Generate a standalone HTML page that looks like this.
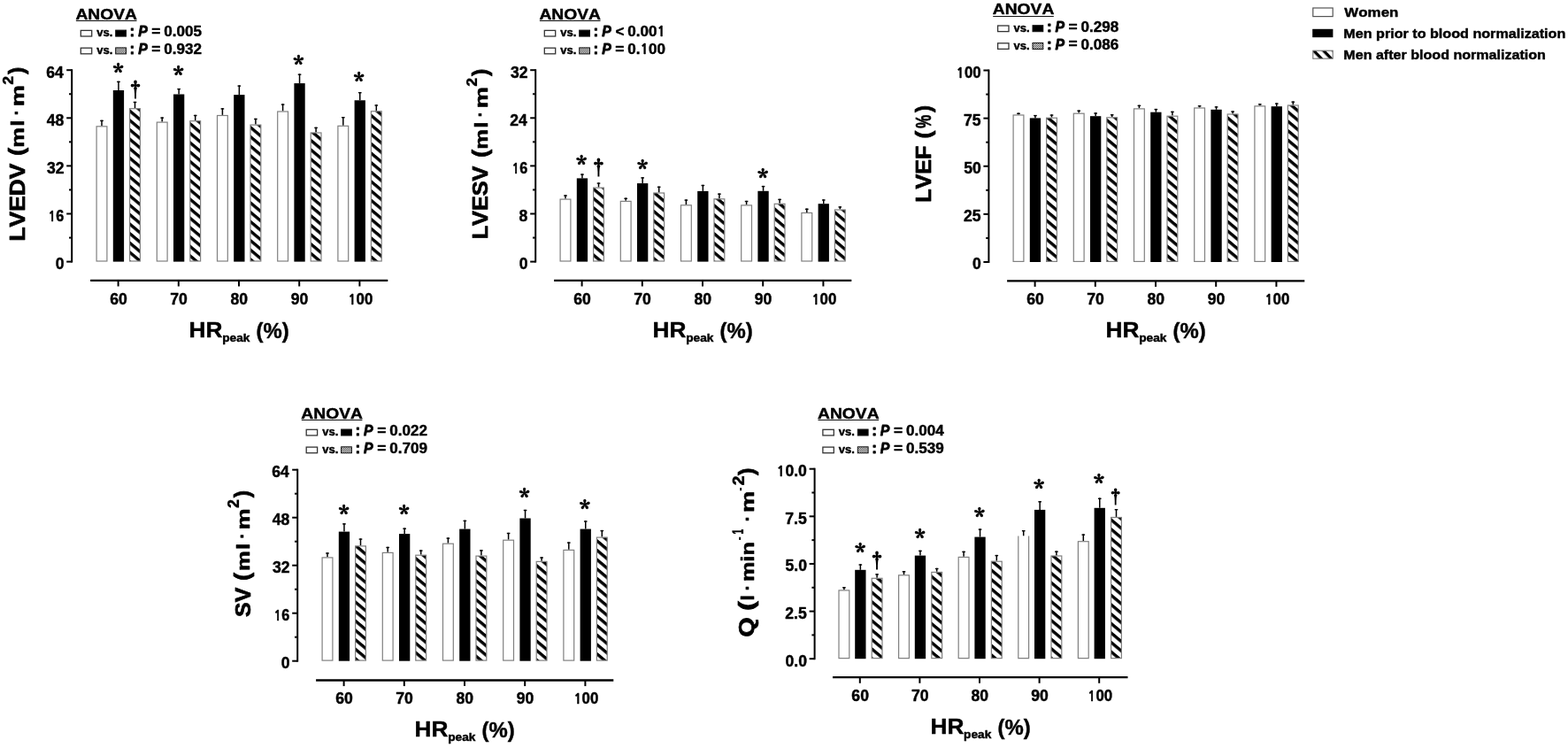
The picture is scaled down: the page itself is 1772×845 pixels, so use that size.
<!DOCTYPE html><html><head><meta charset="utf-8"><title>Cardiac volumes and function vs HRpeak</title><style>
html,body{margin:0;padding:0;background:#fff;overflow:hidden;}svg{display:block;}
text{font-family:'Liberation Sans',Arial,sans-serif;font-weight:bold;fill:#000;font-kerning:none;stroke:#000;stroke-width:0.45px;stroke-linejoin:round;}
</style></head><body>
<svg width="1772" height="845" viewBox="0 0 1772 845">
<defs>
<pattern id="hatch" patternUnits="userSpaceOnUse" width="8.16" height="8.16" patternTransform="rotate(40)"><rect width="8.16" height="8.16" fill="#fff"/><rect width="8.16" height="3.4" fill="#000"/></pattern>
<pattern id="hatchL" patternUnits="userSpaceOnUse" width="7.97" height="7.97" patternTransform="translate(1486.2,56.5) rotate(46)"><rect width="7.97" height="7.97" fill="#fff"/><rect width="7.97" height="3.3" fill="#000"/></pattern>
<pattern id="dots" patternUnits="userSpaceOnUse" width="2" height="2"><rect width="2" height="2" fill="#eee"/><rect width="1" height="1" fill="#444"/><rect x="1" y="1" width="1" height="1" fill="#444"/></pattern>
</defs>
<rect width="1772" height="845" fill="#fff"/>
<line x1="81.2" y1="78.2" x2="81.2" y2="296.6" stroke="#000" stroke-width="2.0"/>
<line x1="75.2" y1="295.6" x2="81.2" y2="295.6" stroke="#000" stroke-width="2.0"/>
<text x="62.73" y="304.04" style="font-size:17.6px" textLength="9.79" lengthAdjust="spacingAndGlyphs">0</text>
<line x1="78" y1="268.55" x2="81.2" y2="268.55" stroke="#000" stroke-width="2.0"/>
<line x1="75.2" y1="241.5" x2="81.2" y2="241.5" stroke="#000" stroke-width="2.0"/>
<text x="54.28" y="249.94" style="font-size:17.6px" textLength="18.1" lengthAdjust="spacingAndGlyphs"><tspan style="font-family:NanumGothic,sans-serif;font-size:0.922em">1</tspan>6</text>
<line x1="78" y1="214.45" x2="81.2" y2="214.45" stroke="#000" stroke-width="2.0"/>
<line x1="75.2" y1="187.4" x2="81.2" y2="187.4" stroke="#000" stroke-width="2.0"/>
<text x="52.93" y="195.84" style="font-size:17.6px" textLength="19.58" lengthAdjust="spacingAndGlyphs">32</text>
<line x1="78" y1="160.35" x2="81.2" y2="160.35" stroke="#000" stroke-width="2.0"/>
<line x1="75.2" y1="133.3" x2="81.2" y2="133.3" stroke="#000" stroke-width="2.0"/>
<text x="52.76" y="141.74" style="font-size:17.6px" textLength="19.58" lengthAdjust="spacingAndGlyphs">48</text>
<line x1="78" y1="106.25" x2="81.2" y2="106.25" stroke="#000" stroke-width="2.0"/>
<line x1="75.2" y1="79.2" x2="81.2" y2="79.2" stroke="#000" stroke-width="2.0"/>
<text x="52.32" y="87.64" style="font-size:17.6px" textLength="19.58" lengthAdjust="spacingAndGlyphs">64</text>
<line x1="102.1" y1="316.9" x2="438.3" y2="316.9" stroke="#000" stroke-width="2.3"/>
<line x1="133.6" y1="316.9" x2="133.6" y2="323.5" stroke="#000" stroke-width="2.0"/>
<text x="124.15" y="343.7" style="font-size:17.6px" textLength="19.58" lengthAdjust="spacingAndGlyphs">60</text>
<line x1="201.8" y1="316.9" x2="201.8" y2="323.5" stroke="#000" stroke-width="2.0"/>
<text x="192.29" y="343.7" style="font-size:17.6px" textLength="19.58" lengthAdjust="spacingAndGlyphs">70</text>
<line x1="270" y1="316.9" x2="270" y2="323.5" stroke="#000" stroke-width="2.0"/>
<text x="260.59" y="343.7" style="font-size:17.6px" textLength="19.58" lengthAdjust="spacingAndGlyphs">80</text>
<line x1="338.2" y1="316.9" x2="338.2" y2="323.5" stroke="#000" stroke-width="2.0"/>
<text x="328.77" y="343.7" style="font-size:17.6px" textLength="19.58" lengthAdjust="spacingAndGlyphs">90</text>
<line x1="406.4" y1="316.9" x2="406.4" y2="323.5" stroke="#000" stroke-width="2.0"/>
<text x="393.16" y="343.7" style="font-size:17.6px" textLength="28.18" lengthAdjust="spacingAndGlyphs"><tspan style="font-family:NanumGothic,sans-serif;font-size:0.922em">1</tspan>00</text>
<text><tspan x="213.64" y="380.8" style="font-size:23.3px" textLength="37.89" lengthAdjust="spacingAndGlyphs">HR</tspan><tspan x="251.2" y="385.5" style="font-size:12.8px" textLength="31.29" lengthAdjust="spacingAndGlyphs">peak</tspan><tspan x="282.97" y="382.1" style="font-size:23.6px" textLength="43.82" lengthAdjust="spacingAndGlyphs"> (%)</tspan></text>
<line x1="115" y1="142.2" x2="115" y2="135.7" stroke="#000" stroke-width="1.5"/>
<line x1="113.2" y1="136.4" x2="116.8" y2="136.4" stroke="#000" stroke-width="1.4"/>
<rect x="109.1" y="142.8" width="11.8" height="152.2" fill="#fff" stroke="#808080" stroke-width="1.2"/>
<line x1="133.95" y1="102" x2="133.95" y2="91.7" stroke="#000" stroke-width="1.5"/>
<line x1="132.15" y1="92.4" x2="135.75" y2="92.4" stroke="#000" stroke-width="1.4"/>
<rect x="127.8" y="102" width="12.3" height="193.6" fill="#000"/>
<line x1="152.5" y1="122.1" x2="152.5" y2="114.8" stroke="#000" stroke-width="1.5"/>
<line x1="150.7" y1="115.5" x2="154.3" y2="115.5" stroke="#000" stroke-width="1.4"/>
<rect x="146.6" y="122.7" width="11.8" height="172.3" fill="url(#hatch)" stroke="#808080" stroke-width="1.2"/>
<line x1="183.2" y1="137.5" x2="183.2" y2="132.4" stroke="#000" stroke-width="1.5"/>
<line x1="181.4" y1="133.1" x2="185" y2="133.1" stroke="#000" stroke-width="1.4"/>
<rect x="177.3" y="138.1" width="11.8" height="156.9" fill="#fff" stroke="#808080" stroke-width="1.2"/>
<line x1="202.15" y1="106.5" x2="202.15" y2="99.9" stroke="#000" stroke-width="1.5"/>
<line x1="200.35" y1="100.6" x2="203.95" y2="100.6" stroke="#000" stroke-width="1.4"/>
<rect x="196" y="106.5" width="12.3" height="189.1" fill="#000"/>
<line x1="220.7" y1="136.1" x2="220.7" y2="129.8" stroke="#000" stroke-width="1.5"/>
<line x1="218.9" y1="130.5" x2="222.5" y2="130.5" stroke="#000" stroke-width="1.4"/>
<rect x="214.8" y="136.7" width="11.8" height="158.3" fill="url(#hatch)" stroke="#808080" stroke-width="1.2"/>
<line x1="251.4" y1="129.9" x2="251.4" y2="122.2" stroke="#000" stroke-width="1.5"/>
<line x1="249.6" y1="122.9" x2="253.2" y2="122.9" stroke="#000" stroke-width="1.4"/>
<rect x="245.5" y="130.5" width="11.8" height="164.5" fill="#fff" stroke="#808080" stroke-width="1.2"/>
<line x1="270.35" y1="107.1" x2="270.35" y2="96.4" stroke="#000" stroke-width="1.5"/>
<line x1="268.55" y1="97.1" x2="272.15" y2="97.1" stroke="#000" stroke-width="1.4"/>
<rect x="264.2" y="107.1" width="12.3" height="188.5" fill="#000"/>
<line x1="288.9" y1="140.5" x2="288.9" y2="133.8" stroke="#000" stroke-width="1.5"/>
<line x1="287.1" y1="134.5" x2="290.7" y2="134.5" stroke="#000" stroke-width="1.4"/>
<rect x="283" y="141.1" width="11.8" height="153.9" fill="url(#hatch)" stroke="#808080" stroke-width="1.2"/>
<line x1="319.6" y1="125.4" x2="319.6" y2="117.4" stroke="#000" stroke-width="1.5"/>
<line x1="317.8" y1="118.1" x2="321.4" y2="118.1" stroke="#000" stroke-width="1.4"/>
<rect x="313.7" y="126" width="11.8" height="169" fill="#fff" stroke="#808080" stroke-width="1.2"/>
<line x1="338.55" y1="94.1" x2="338.55" y2="83.5" stroke="#000" stroke-width="1.5"/>
<line x1="336.75" y1="84.2" x2="340.35" y2="84.2" stroke="#000" stroke-width="1.4"/>
<rect x="332.4" y="94.1" width="12.3" height="201.5" fill="#000"/>
<line x1="357.1" y1="149.4" x2="357.1" y2="143.7" stroke="#000" stroke-width="1.5"/>
<line x1="355.3" y1="144.4" x2="358.9" y2="144.4" stroke="#000" stroke-width="1.4"/>
<rect x="351.2" y="150" width="11.8" height="145" fill="url(#hatch)" stroke="#808080" stroke-width="1.2"/>
<line x1="387.8" y1="141.7" x2="387.8" y2="132" stroke="#000" stroke-width="1.5"/>
<line x1="386" y1="132.7" x2="389.6" y2="132.7" stroke="#000" stroke-width="1.4"/>
<rect x="381.9" y="142.3" width="11.8" height="152.7" fill="#fff" stroke="#808080" stroke-width="1.2"/>
<line x1="406.75" y1="113.3" x2="406.75" y2="104" stroke="#000" stroke-width="1.5"/>
<line x1="404.95" y1="104.7" x2="408.55" y2="104.7" stroke="#000" stroke-width="1.4"/>
<rect x="400.6" y="113.3" width="12.3" height="182.3" fill="#000"/>
<line x1="425.3" y1="125.1" x2="425.3" y2="118.3" stroke="#000" stroke-width="1.5"/>
<line x1="423.5" y1="119" x2="427.1" y2="119" stroke="#000" stroke-width="1.4"/>
<rect x="419.4" y="125.7" width="11.8" height="169.3" fill="url(#hatch)" stroke="#808080" stroke-width="1.2"/>
<text x="127.74" y="91.36" style="font-family:'Noto Serif CJK SC',serif;font-weight:900;stroke-width:0.7px;font-size:24.0px">*</text>
<text x="195.74" y="94.36" style="font-family:'Noto Serif CJK SC',serif;font-weight:900;stroke-width:0.7px;font-size:24.0px">*</text>
<text x="331.44" y="81.76" style="font-family:'Noto Serif CJK SC',serif;font-weight:900;stroke-width:0.7px;font-size:24.0px">*</text>
<text x="399.84" y="100.56" style="font-family:'Noto Serif CJK SC',serif;font-weight:900;stroke-width:0.7px;font-size:24.0px">*</text>
<text x="142.25" y="108.58" style="font-family:IPAGothic,sans-serif;font-weight:bold;stroke:none;font-size:21.52px">&#8224;</text>
<text x="85.42" y="21.7" style="font-size:17.15px" textLength="69.59" lengthAdjust="spacingAndGlyphs">ANOVA</text>
<line x1="85.9" y1="23.5" x2="154.5" y2="23.5" stroke="#111" stroke-width="1.1"/>
<rect x="91.3" y="34.4" width="12.4" height="6.6" fill="#fff" stroke="#333" stroke-width="1.3"/>
<rect x="130.7" y="34.1" width="11.8" height="7.0" fill="#000" stroke="#111" stroke-width="1"/>
<text><tspan x="109.25" y="41.2" style="font-size:13px" textLength="21.78" lengthAdjust="spacingAndGlyphs">vs. </tspan><tspan x="146.62" y="41.2" style="font-size:17.3px;stroke-width:0.8px">: </tspan><tspan x="156.22" y="41.2" style="font-style:italic;stroke-width:0.8px;font-size:17.3px" textLength="14.95" lengthAdjust="spacingAndGlyphs">P </tspan><tspan x="171.28" y="41" style="font-size:17.3px" textLength="14.95" lengthAdjust="spacingAndGlyphs">= </tspan><tspan x="185.32" y="41.2" style="font-size:17.3px" textLength="42.75" lengthAdjust="spacingAndGlyphs">0.005</tspan></text>
<rect x="91.3" y="54.2" width="12.4" height="6.6" fill="#fff" stroke="#333" stroke-width="1.3"/>
<rect x="130.7" y="53.9" width="11.8" height="7.0" fill="url(#dots)" stroke="#111" stroke-width="1"/>
<text><tspan x="109.25" y="61" style="font-size:13px" textLength="21.78" lengthAdjust="spacingAndGlyphs">vs. </tspan><tspan x="146.62" y="61" style="font-size:17.3px;stroke-width:0.8px">: </tspan><tspan x="156.22" y="61" style="font-style:italic;stroke-width:0.8px;font-size:17.3px" textLength="14.95" lengthAdjust="spacingAndGlyphs">P </tspan><tspan x="171.28" y="60.8" style="font-size:17.3px" textLength="14.95" lengthAdjust="spacingAndGlyphs">= </tspan><tspan x="185.32" y="61" style="font-size:17.3px" textLength="42.75" lengthAdjust="spacingAndGlyphs">0.932</tspan></text>
<text transform="rotate(-90)"><tspan x="-272.57" y="27.7" style="stroke-width:0.75px;font-size:24.7px" textLength="95.38" lengthAdjust="spacingAndGlyphs">LVEDV </tspan><tspan x="-175.96" y="27.3" style="stroke-width:0.75px;font-size:24.7px" textLength="9.09" lengthAdjust="spacingAndGlyphs">(</tspan><tspan x="-166.79" y="27.3" style="stroke-width:0.6px;font-size:21px" textLength="22.78" lengthAdjust="spacingAndGlyphs">m</tspan><tspan x="-142.73" y="27.3" style="stroke-width:0.6px;font-size:21px" textLength="7.29" lengthAdjust="spacingAndGlyphs">l</tspan><tspan x="-130.42" y="25.3" style="stroke-width:0.6px;font-size:21px" textLength="6.87" lengthAdjust="spacingAndGlyphs">·</tspan><tspan x="-120.19" y="27.3" style="stroke-width:0.6px;font-size:21px" textLength="24.18" lengthAdjust="spacingAndGlyphs">m</tspan><tspan x="-95.96" y="27.26" style="stroke-width:0.2px;font-size:34.41px" textLength="10.21" lengthAdjust="spacingAndGlyphs">²</tspan><tspan x="-84.02" y="27.3" style="stroke-width:0.75px;font-size:24.7px" textLength="8.38" lengthAdjust="spacingAndGlyphs">)</tspan></text>
<line x1="605.2" y1="78.2" x2="605.2" y2="296.6" stroke="#000" stroke-width="2.0"/>
<line x1="599.2" y1="295.6" x2="605.2" y2="295.6" stroke="#000" stroke-width="2.0"/>
<text x="586.73" y="304.04" style="font-size:17.6px" textLength="9.79" lengthAdjust="spacingAndGlyphs">0</text>
<line x1="602" y1="268.55" x2="605.2" y2="268.55" stroke="#000" stroke-width="2.0"/>
<line x1="599.2" y1="241.5" x2="605.2" y2="241.5" stroke="#000" stroke-width="2.0"/>
<text x="586.55" y="249.94" style="font-size:17.6px" textLength="9.79" lengthAdjust="spacingAndGlyphs">8</text>
<line x1="602" y1="214.45" x2="605.2" y2="214.45" stroke="#000" stroke-width="2.0"/>
<line x1="599.2" y1="187.4" x2="605.2" y2="187.4" stroke="#000" stroke-width="2.0"/>
<text x="578.28" y="195.84" style="font-size:17.6px" textLength="18.1" lengthAdjust="spacingAndGlyphs"><tspan style="font-family:NanumGothic,sans-serif;font-size:0.922em">1</tspan>6</text>
<line x1="602" y1="160.35" x2="605.2" y2="160.35" stroke="#000" stroke-width="2.0"/>
<line x1="599.2" y1="133.3" x2="605.2" y2="133.3" stroke="#000" stroke-width="2.0"/>
<text x="576.32" y="141.74" style="font-size:17.6px" textLength="19.58" lengthAdjust="spacingAndGlyphs">24</text>
<line x1="602" y1="106.25" x2="605.2" y2="106.25" stroke="#000" stroke-width="2.0"/>
<line x1="599.2" y1="79.2" x2="605.2" y2="79.2" stroke="#000" stroke-width="2.0"/>
<text x="576.93" y="87.64" style="font-size:17.6px" textLength="19.58" lengthAdjust="spacingAndGlyphs">32</text>
<line x1="626.1" y1="316.9" x2="962.3" y2="316.9" stroke="#000" stroke-width="2.3"/>
<line x1="657.6" y1="316.9" x2="657.6" y2="323.5" stroke="#000" stroke-width="2.0"/>
<text x="648.15" y="343.7" style="font-size:17.6px" textLength="19.58" lengthAdjust="spacingAndGlyphs">60</text>
<line x1="725.8" y1="316.9" x2="725.8" y2="323.5" stroke="#000" stroke-width="2.0"/>
<text x="716.29" y="343.7" style="font-size:17.6px" textLength="19.58" lengthAdjust="spacingAndGlyphs">70</text>
<line x1="794" y1="316.9" x2="794" y2="323.5" stroke="#000" stroke-width="2.0"/>
<text x="784.59" y="343.7" style="font-size:17.6px" textLength="19.58" lengthAdjust="spacingAndGlyphs">80</text>
<line x1="862.2" y1="316.9" x2="862.2" y2="323.5" stroke="#000" stroke-width="2.0"/>
<text x="852.77" y="343.7" style="font-size:17.6px" textLength="19.58" lengthAdjust="spacingAndGlyphs">90</text>
<line x1="930.4" y1="316.9" x2="930.4" y2="323.5" stroke="#000" stroke-width="2.0"/>
<text x="917.16" y="343.7" style="font-size:17.6px" textLength="28.18" lengthAdjust="spacingAndGlyphs"><tspan style="font-family:NanumGothic,sans-serif;font-size:0.922em">1</tspan>00</text>
<text><tspan x="737.64" y="380.8" style="font-size:23.3px" textLength="37.89" lengthAdjust="spacingAndGlyphs">HR</tspan><tspan x="775.2" y="385.5" style="font-size:12.8px" textLength="31.29" lengthAdjust="spacingAndGlyphs">peak</tspan><tspan x="806.97" y="382.1" style="font-size:23.6px" textLength="43.82" lengthAdjust="spacingAndGlyphs"> (%)</tspan></text>
<line x1="639" y1="224.5" x2="639" y2="220.3" stroke="#000" stroke-width="1.5"/>
<line x1="637.2" y1="221" x2="640.8" y2="221" stroke="#000" stroke-width="1.4"/>
<rect x="633.1" y="225.1" width="11.8" height="69.9" fill="#fff" stroke="#808080" stroke-width="1.2"/>
<line x1="657.95" y1="201.4" x2="657.95" y2="196.4" stroke="#000" stroke-width="1.5"/>
<line x1="656.15" y1="197.1" x2="659.75" y2="197.1" stroke="#000" stroke-width="1.4"/>
<rect x="651.8" y="201.4" width="12.3" height="94.2" fill="#000"/>
<line x1="676.5" y1="211.5" x2="676.5" y2="206.4" stroke="#000" stroke-width="1.5"/>
<line x1="674.7" y1="207.1" x2="678.3" y2="207.1" stroke="#000" stroke-width="1.4"/>
<rect x="670.6" y="212.1" width="11.8" height="82.9" fill="url(#hatch)" stroke="#808080" stroke-width="1.2"/>
<line x1="707.2" y1="226.8" x2="707.2" y2="223.6" stroke="#000" stroke-width="1.5"/>
<line x1="705.4" y1="224.3" x2="709" y2="224.3" stroke="#000" stroke-width="1.4"/>
<rect x="701.3" y="227.4" width="11.8" height="67.6" fill="#fff" stroke="#808080" stroke-width="1.2"/>
<line x1="726.15" y1="207.1" x2="726.15" y2="200.2" stroke="#000" stroke-width="1.5"/>
<line x1="724.35" y1="200.9" x2="727.95" y2="200.9" stroke="#000" stroke-width="1.4"/>
<rect x="720" y="207.1" width="12.3" height="88.5" fill="#000"/>
<line x1="744.7" y1="217.4" x2="744.7" y2="210.6" stroke="#000" stroke-width="1.5"/>
<line x1="742.9" y1="211.3" x2="746.5" y2="211.3" stroke="#000" stroke-width="1.4"/>
<rect x="738.8" y="218" width="11.8" height="77" fill="url(#hatch)" stroke="#808080" stroke-width="1.2"/>
<line x1="775.4" y1="231.2" x2="775.4" y2="225.4" stroke="#000" stroke-width="1.5"/>
<line x1="773.6" y1="226.1" x2="777.2" y2="226.1" stroke="#000" stroke-width="1.4"/>
<rect x="769.5" y="231.8" width="11.8" height="63.2" fill="#fff" stroke="#808080" stroke-width="1.2"/>
<line x1="794.35" y1="215.9" x2="794.35" y2="208.8" stroke="#000" stroke-width="1.5"/>
<line x1="792.55" y1="209.5" x2="796.15" y2="209.5" stroke="#000" stroke-width="1.4"/>
<rect x="788.2" y="215.9" width="12.3" height="79.7" fill="#000"/>
<line x1="812.9" y1="224.2" x2="812.9" y2="218.5" stroke="#000" stroke-width="1.5"/>
<line x1="811.1" y1="219.2" x2="814.7" y2="219.2" stroke="#000" stroke-width="1.4"/>
<rect x="807" y="224.8" width="11.8" height="70.2" fill="url(#hatch)" stroke="#808080" stroke-width="1.2"/>
<line x1="843.6" y1="231.3" x2="843.6" y2="226.8" stroke="#000" stroke-width="1.5"/>
<line x1="841.8" y1="227.5" x2="845.4" y2="227.5" stroke="#000" stroke-width="1.4"/>
<rect x="837.7" y="231.9" width="11.8" height="63.1" fill="#fff" stroke="#808080" stroke-width="1.2"/>
<line x1="862.55" y1="215.8" x2="862.55" y2="209.9" stroke="#000" stroke-width="1.5"/>
<line x1="860.75" y1="210.6" x2="864.35" y2="210.6" stroke="#000" stroke-width="1.4"/>
<rect x="856.4" y="215.8" width="12.3" height="79.8" fill="#000"/>
<line x1="881.1" y1="229.7" x2="881.1" y2="224.7" stroke="#000" stroke-width="1.5"/>
<line x1="879.3" y1="225.4" x2="882.9" y2="225.4" stroke="#000" stroke-width="1.4"/>
<rect x="875.2" y="230.3" width="11.8" height="64.7" fill="url(#hatch)" stroke="#808080" stroke-width="1.2"/>
<line x1="911.8" y1="239.9" x2="911.8" y2="235.6" stroke="#000" stroke-width="1.5"/>
<line x1="910" y1="236.3" x2="913.6" y2="236.3" stroke="#000" stroke-width="1.4"/>
<rect x="905.9" y="240.5" width="11.8" height="54.5" fill="#fff" stroke="#808080" stroke-width="1.2"/>
<line x1="930.75" y1="230.2" x2="930.75" y2="225.3" stroke="#000" stroke-width="1.5"/>
<line x1="928.95" y1="226" x2="932.55" y2="226" stroke="#000" stroke-width="1.4"/>
<rect x="924.6" y="230.2" width="12.3" height="65.4" fill="#000"/>
<line x1="949.3" y1="236.4" x2="949.3" y2="233.2" stroke="#000" stroke-width="1.5"/>
<line x1="947.5" y1="233.9" x2="951.1" y2="233.9" stroke="#000" stroke-width="1.4"/>
<rect x="943.4" y="237" width="11.8" height="58" fill="url(#hatch)" stroke="#808080" stroke-width="1.2"/>
<text x="651.14" y="194.96" style="font-family:'Noto Serif CJK SC',serif;font-weight:900;stroke-width:0.7px;font-size:24.0px">*</text>
<text x="720.14" y="199.66" style="font-family:'Noto Serif CJK SC',serif;font-weight:900;stroke-width:0.7px;font-size:24.0px">*</text>
<text x="856.24" y="209.66" style="font-family:'Noto Serif CJK SC',serif;font-weight:900;stroke-width:0.7px;font-size:24.0px">*</text>
<text x="665.39" y="197.25" style="font-family:IPAGothic,sans-serif;font-weight:bold;stroke:none;font-size:21.85px">&#8224;</text>
<text x="609.42" y="21.7" style="font-size:17.15px" textLength="69.59" lengthAdjust="spacingAndGlyphs">ANOVA</text>
<line x1="609.9" y1="23.5" x2="678.5" y2="23.5" stroke="#111" stroke-width="1.1"/>
<rect x="615.3" y="34.4" width="12.4" height="6.6" fill="#fff" stroke="#333" stroke-width="1.3"/>
<rect x="654.7" y="34.1" width="11.8" height="7.0" fill="#000" stroke="#111" stroke-width="1"/>
<text><tspan x="633.25" y="41.2" style="font-size:13px" textLength="21.78" lengthAdjust="spacingAndGlyphs">vs. </tspan><tspan x="670.62" y="41.2" style="font-size:17.3px;stroke-width:0.8px">: </tspan><tspan x="680.22" y="41.2" style="font-style:italic;stroke-width:0.8px;font-size:17.3px" textLength="14.95" lengthAdjust="spacingAndGlyphs">P </tspan><tspan x="695.49" y="41.2" style="font-size:17.3px" textLength="14.61" lengthAdjust="spacingAndGlyphs">&lt; </tspan><tspan x="709.32" y="41.2" style="font-size:17.3px" textLength="42.75" lengthAdjust="spacingAndGlyphs">0.00<tspan style="font-family:NanumGothic,sans-serif;font-size:0.922em">1</tspan></tspan></text>
<rect x="615.3" y="54.2" width="12.4" height="6.6" fill="#fff" stroke="#333" stroke-width="1.3"/>
<rect x="654.7" y="53.9" width="11.8" height="7.0" fill="url(#dots)" stroke="#111" stroke-width="1"/>
<text><tspan x="633.25" y="61" style="font-size:13px" textLength="21.78" lengthAdjust="spacingAndGlyphs">vs. </tspan><tspan x="670.62" y="61" style="font-size:17.3px;stroke-width:0.8px">: </tspan><tspan x="680.22" y="61" style="font-style:italic;stroke-width:0.8px;font-size:17.3px" textLength="14.95" lengthAdjust="spacingAndGlyphs">P </tspan><tspan x="695.28" y="60.8" style="font-size:17.3px" textLength="14.95" lengthAdjust="spacingAndGlyphs">= </tspan><tspan x="709.32" y="61" style="font-size:17.3px" textLength="42.75" lengthAdjust="spacingAndGlyphs">0.<tspan style="font-family:NanumGothic,sans-serif;font-size:0.922em">1</tspan>00</tspan></text>
<text transform="rotate(-90)"><tspan x="-270.39" y="551.3" style="stroke-width:0.75px;font-size:24.7px" textLength="89.88" lengthAdjust="spacingAndGlyphs">LVESV </tspan><tspan x="-177.96" y="550.8" style="stroke-width:0.75px;font-size:24.7px" textLength="9.09" lengthAdjust="spacingAndGlyphs">(</tspan><tspan x="-168.79" y="550.8" style="stroke-width:0.6px;font-size:21px" textLength="22.78" lengthAdjust="spacingAndGlyphs">m</tspan><tspan x="-144.73" y="550.8" style="stroke-width:0.6px;font-size:21px" textLength="7.29" lengthAdjust="spacingAndGlyphs">l</tspan><tspan x="-132.42" y="548.8" style="stroke-width:0.6px;font-size:21px" textLength="6.87" lengthAdjust="spacingAndGlyphs">·</tspan><tspan x="-122.19" y="550.8" style="stroke-width:0.6px;font-size:21px" textLength="24.18" lengthAdjust="spacingAndGlyphs">m</tspan><tspan x="-97.96" y="550.39" style="stroke-width:0.2px;font-size:32.73px" textLength="10.21" lengthAdjust="spacingAndGlyphs">²</tspan><tspan x="-86.02" y="550.8" style="stroke-width:0.75px;font-size:24.7px" textLength="8.38" lengthAdjust="spacingAndGlyphs">)</tspan></text>
<line x1="1117.4" y1="78.5" x2="1117.4" y2="297" stroke="#000" stroke-width="2.0"/>
<line x1="1111.4" y1="296" x2="1117.4" y2="296" stroke="#000" stroke-width="2.0"/>
<text x="1098.93" y="304.44" style="font-size:17.6px" textLength="9.79" lengthAdjust="spacingAndGlyphs">0</text>
<line x1="1114.2" y1="268.94" x2="1117.4" y2="268.94" stroke="#000" stroke-width="2.0"/>
<line x1="1111.4" y1="241.88" x2="1117.4" y2="241.88" stroke="#000" stroke-width="2.0"/>
<text x="1088.91" y="250.32" style="font-size:17.6px" textLength="19.58" lengthAdjust="spacingAndGlyphs">25</text>
<line x1="1114.2" y1="214.81" x2="1117.4" y2="214.81" stroke="#000" stroke-width="2.0"/>
<line x1="1111.4" y1="187.75" x2="1117.4" y2="187.75" stroke="#000" stroke-width="2.0"/>
<text x="1089.15" y="196.19" style="font-size:17.6px" textLength="19.58" lengthAdjust="spacingAndGlyphs">50</text>
<line x1="1114.2" y1="160.69" x2="1117.4" y2="160.69" stroke="#000" stroke-width="2.0"/>
<line x1="1111.4" y1="133.62" x2="1117.4" y2="133.62" stroke="#000" stroke-width="2.0"/>
<text x="1088.91" y="142.07" style="font-size:17.6px" textLength="19.58" lengthAdjust="spacingAndGlyphs">75</text>
<line x1="1114.2" y1="106.56" x2="1117.4" y2="106.56" stroke="#000" stroke-width="2.0"/>
<line x1="1111.4" y1="79.5" x2="1117.4" y2="79.5" stroke="#000" stroke-width="2.0"/>
<text x="1080.51" y="87.94" style="font-size:17.6px" textLength="28.18" lengthAdjust="spacingAndGlyphs"><tspan style="font-family:NanumGothic,sans-serif;font-size:0.922em">1</tspan>00</text>
<line x1="1138.1" y1="317.3" x2="1474.3" y2="317.3" stroke="#000" stroke-width="2.3"/>
<line x1="1169.6" y1="317.3" x2="1169.6" y2="323.9" stroke="#000" stroke-width="2.0"/>
<text x="1160.15" y="343.7" style="font-size:17.6px" textLength="19.58" lengthAdjust="spacingAndGlyphs">60</text>
<line x1="1237.8" y1="317.3" x2="1237.8" y2="323.9" stroke="#000" stroke-width="2.0"/>
<text x="1228.29" y="343.7" style="font-size:17.6px" textLength="19.58" lengthAdjust="spacingAndGlyphs">70</text>
<line x1="1306" y1="317.3" x2="1306" y2="323.9" stroke="#000" stroke-width="2.0"/>
<text x="1296.59" y="343.7" style="font-size:17.6px" textLength="19.58" lengthAdjust="spacingAndGlyphs">80</text>
<line x1="1374.2" y1="317.3" x2="1374.2" y2="323.9" stroke="#000" stroke-width="2.0"/>
<text x="1364.77" y="343.7" style="font-size:17.6px" textLength="19.58" lengthAdjust="spacingAndGlyphs">90</text>
<line x1="1442.4" y1="317.3" x2="1442.4" y2="323.9" stroke="#000" stroke-width="2.0"/>
<text x="1429.16" y="343.7" style="font-size:17.6px" textLength="28.18" lengthAdjust="spacingAndGlyphs"><tspan style="font-family:NanumGothic,sans-serif;font-size:0.922em">1</tspan>00</text>
<text><tspan x="1249.64" y="380.8" style="font-size:23.3px" textLength="37.89" lengthAdjust="spacingAndGlyphs">HR</tspan><tspan x="1287.2" y="385.5" style="font-size:12.8px" textLength="31.29" lengthAdjust="spacingAndGlyphs">peak</tspan><tspan x="1318.97" y="382.1" style="font-size:23.6px" textLength="43.82" lengthAdjust="spacingAndGlyphs"> (%)</tspan></text>
<line x1="1151" y1="129.4" x2="1151" y2="127.6" stroke="#000" stroke-width="1.5"/>
<line x1="1149.2" y1="128.3" x2="1152.8" y2="128.3" stroke="#000" stroke-width="1.4"/>
<rect x="1145.1" y="130" width="11.8" height="165.4" fill="#fff" stroke="#808080" stroke-width="1.2"/>
<line x1="1169.95" y1="133.4" x2="1169.95" y2="129.9" stroke="#000" stroke-width="1.5"/>
<line x1="1168.15" y1="130.6" x2="1171.75" y2="130.6" stroke="#000" stroke-width="1.4"/>
<rect x="1163.8" y="133.4" width="12.3" height="162.6" fill="#000"/>
<line x1="1188.5" y1="132.6" x2="1188.5" y2="129.4" stroke="#000" stroke-width="1.5"/>
<line x1="1186.7" y1="130.1" x2="1190.3" y2="130.1" stroke="#000" stroke-width="1.4"/>
<rect x="1182.6" y="133.2" width="11.8" height="162.2" fill="url(#hatch)" stroke="#808080" stroke-width="1.2"/>
<line x1="1219.2" y1="127.6" x2="1219.2" y2="124.5" stroke="#000" stroke-width="1.5"/>
<line x1="1217.4" y1="125.2" x2="1221" y2="125.2" stroke="#000" stroke-width="1.4"/>
<rect x="1213.3" y="128.2" width="11.8" height="167.2" fill="#fff" stroke="#808080" stroke-width="1.2"/>
<line x1="1238.15" y1="131.2" x2="1238.15" y2="127.3" stroke="#000" stroke-width="1.5"/>
<line x1="1236.35" y1="128" x2="1239.95" y2="128" stroke="#000" stroke-width="1.4"/>
<rect x="1232" y="131.2" width="12.3" height="164.8" fill="#000"/>
<line x1="1256.7" y1="132.2" x2="1256.7" y2="129.1" stroke="#000" stroke-width="1.5"/>
<line x1="1254.9" y1="129.8" x2="1258.5" y2="129.8" stroke="#000" stroke-width="1.4"/>
<rect x="1250.8" y="132.8" width="11.8" height="162.6" fill="url(#hatch)" stroke="#808080" stroke-width="1.2"/>
<line x1="1287.4" y1="122.3" x2="1287.4" y2="118.7" stroke="#000" stroke-width="1.5"/>
<line x1="1285.6" y1="119.4" x2="1289.2" y2="119.4" stroke="#000" stroke-width="1.4"/>
<rect x="1281.5" y="122.9" width="11.8" height="172.5" fill="#fff" stroke="#808080" stroke-width="1.2"/>
<line x1="1306.35" y1="126.7" x2="1306.35" y2="122.9" stroke="#000" stroke-width="1.5"/>
<line x1="1304.55" y1="123.6" x2="1308.15" y2="123.6" stroke="#000" stroke-width="1.4"/>
<rect x="1300.2" y="126.7" width="12.3" height="169.3" fill="#000"/>
<line x1="1324.9" y1="130.6" x2="1324.9" y2="125.7" stroke="#000" stroke-width="1.5"/>
<line x1="1323.1" y1="126.4" x2="1326.7" y2="126.4" stroke="#000" stroke-width="1.4"/>
<rect x="1319" y="131.2" width="11.8" height="164.2" fill="url(#hatch)" stroke="#808080" stroke-width="1.2"/>
<line x1="1355.6" y1="121.4" x2="1355.6" y2="119.1" stroke="#000" stroke-width="1.5"/>
<line x1="1353.8" y1="119.8" x2="1357.4" y2="119.8" stroke="#000" stroke-width="1.4"/>
<rect x="1349.7" y="122" width="11.8" height="173.4" fill="#fff" stroke="#808080" stroke-width="1.2"/>
<line x1="1374.55" y1="123.8" x2="1374.55" y2="120.2" stroke="#000" stroke-width="1.5"/>
<line x1="1372.75" y1="120.9" x2="1376.35" y2="120.9" stroke="#000" stroke-width="1.4"/>
<rect x="1368.4" y="123.8" width="12.3" height="172.2" fill="#000"/>
<line x1="1393.1" y1="128.4" x2="1393.1" y2="125.4" stroke="#000" stroke-width="1.5"/>
<line x1="1391.3" y1="126.1" x2="1394.9" y2="126.1" stroke="#000" stroke-width="1.4"/>
<rect x="1387.2" y="129" width="11.8" height="166.4" fill="url(#hatch)" stroke="#808080" stroke-width="1.2"/>
<line x1="1423.8" y1="119.3" x2="1423.8" y2="117.2" stroke="#000" stroke-width="1.5"/>
<line x1="1422" y1="117.9" x2="1425.6" y2="117.9" stroke="#000" stroke-width="1.4"/>
<rect x="1417.9" y="119.9" width="11.8" height="175.5" fill="#fff" stroke="#808080" stroke-width="1.2"/>
<line x1="1442.75" y1="120.2" x2="1442.75" y2="116.4" stroke="#000" stroke-width="1.5"/>
<line x1="1440.95" y1="117.1" x2="1444.55" y2="117.1" stroke="#000" stroke-width="1.4"/>
<rect x="1436.6" y="120.2" width="12.3" height="175.8" fill="#000"/>
<line x1="1461.3" y1="118.4" x2="1461.3" y2="114.5" stroke="#000" stroke-width="1.5"/>
<line x1="1459.5" y1="115.2" x2="1463.1" y2="115.2" stroke="#000" stroke-width="1.4"/>
<rect x="1455.4" y="119" width="11.8" height="176.4" fill="url(#hatch)" stroke="#808080" stroke-width="1.2"/>
<text x="1121.72" y="16.3" style="font-size:17.15px" textLength="69.59" lengthAdjust="spacingAndGlyphs">ANOVA</text>
<line x1="1122.2" y1="18.5" x2="1190.8" y2="18.5" stroke="#111" stroke-width="1.1"/>
<rect x="1127.6" y="29" width="12.4" height="6.6" fill="#fff" stroke="#333" stroke-width="1.3"/>
<rect x="1167" y="28.7" width="11.8" height="7.0" fill="#000" stroke="#111" stroke-width="1"/>
<text><tspan x="1145.55" y="35.8" style="font-size:13px" textLength="21.78" lengthAdjust="spacingAndGlyphs">vs. </tspan><tspan x="1182.92" y="35.8" style="font-size:17.3px;stroke-width:0.8px">: </tspan><tspan x="1192.52" y="35.8" style="font-style:italic;stroke-width:0.8px;font-size:17.3px" textLength="14.95" lengthAdjust="spacingAndGlyphs">P </tspan><tspan x="1207.58" y="35.6" style="font-size:17.3px" textLength="14.95" lengthAdjust="spacingAndGlyphs">= </tspan><tspan x="1221.62" y="35.8" style="font-size:17.3px" textLength="42.75" lengthAdjust="spacingAndGlyphs">0.298</tspan></text>
<rect x="1127.6" y="48.8" width="12.4" height="6.6" fill="#fff" stroke="#333" stroke-width="1.3"/>
<rect x="1167" y="48.5" width="11.8" height="7.0" fill="url(#dots)" stroke="#111" stroke-width="1"/>
<text><tspan x="1145.55" y="55.6" style="font-size:13px" textLength="21.78" lengthAdjust="spacingAndGlyphs">vs. </tspan><tspan x="1182.92" y="55.6" style="font-size:17.3px;stroke-width:0.8px">: </tspan><tspan x="1192.52" y="55.6" style="font-style:italic;stroke-width:0.8px;font-size:17.3px" textLength="14.95" lengthAdjust="spacingAndGlyphs">P </tspan><tspan x="1207.58" y="55.4" style="font-size:17.3px" textLength="14.95" lengthAdjust="spacingAndGlyphs">= </tspan><tspan x="1221.62" y="55.6" style="font-size:17.3px" textLength="42.75" lengthAdjust="spacingAndGlyphs">0.086</tspan></text>
<text transform="rotate(-90)"><tspan x="-228.88" y="1052" style="stroke-width:0.75px;font-size:24.7px" textLength="71.3" lengthAdjust="spacingAndGlyphs">LVEF </tspan><tspan x="-156.62" y="1052" style="stroke-width:0.75px;font-size:24.7px" textLength="8.85" lengthAdjust="spacingAndGlyphs">(</tspan><tspan x="-144.93" y="1052.3" style="stroke-width:0.75px;font-size:24.7px" textLength="15.18" lengthAdjust="spacingAndGlyphs">%</tspan><tspan x="-126.92" y="1052" style="stroke-width:0.75px;font-size:24.7px" textLength="8.02" lengthAdjust="spacingAndGlyphs">)</tspan></text>
<line x1="336.2" y1="529.7" x2="336.2" y2="747.7" stroke="#000" stroke-width="2.0"/>
<line x1="330.2" y1="746.7" x2="336.2" y2="746.7" stroke="#000" stroke-width="2.0"/>
<text x="317.73" y="755.14" style="font-size:17.6px" textLength="9.79" lengthAdjust="spacingAndGlyphs">0</text>
<line x1="333" y1="719.7" x2="336.2" y2="719.7" stroke="#000" stroke-width="2.0"/>
<line x1="330.2" y1="692.7" x2="336.2" y2="692.7" stroke="#000" stroke-width="2.0"/>
<text x="309.28" y="701.14" style="font-size:17.6px" textLength="18.1" lengthAdjust="spacingAndGlyphs"><tspan style="font-family:NanumGothic,sans-serif;font-size:0.922em">1</tspan>6</text>
<line x1="333" y1="665.7" x2="336.2" y2="665.7" stroke="#000" stroke-width="2.0"/>
<line x1="330.2" y1="638.7" x2="336.2" y2="638.7" stroke="#000" stroke-width="2.0"/>
<text x="307.93" y="647.14" style="font-size:17.6px" textLength="19.58" lengthAdjust="spacingAndGlyphs">32</text>
<line x1="333" y1="611.7" x2="336.2" y2="611.7" stroke="#000" stroke-width="2.0"/>
<line x1="330.2" y1="584.7" x2="336.2" y2="584.7" stroke="#000" stroke-width="2.0"/>
<text x="307.76" y="593.14" style="font-size:17.6px" textLength="19.58" lengthAdjust="spacingAndGlyphs">48</text>
<line x1="333" y1="557.7" x2="336.2" y2="557.7" stroke="#000" stroke-width="2.0"/>
<line x1="330.2" y1="530.7" x2="336.2" y2="530.7" stroke="#000" stroke-width="2.0"/>
<text x="307.32" y="539.14" style="font-size:17.6px" textLength="19.58" lengthAdjust="spacingAndGlyphs">64</text>
<line x1="357.1" y1="768.5" x2="693.3" y2="768.5" stroke="#000" stroke-width="2.3"/>
<line x1="388.6" y1="768.5" x2="388.6" y2="775.1" stroke="#000" stroke-width="2.0"/>
<text x="379.15" y="794.8" style="font-size:17.6px" textLength="19.58" lengthAdjust="spacingAndGlyphs">60</text>
<line x1="456.8" y1="768.5" x2="456.8" y2="775.1" stroke="#000" stroke-width="2.0"/>
<text x="447.29" y="794.8" style="font-size:17.6px" textLength="19.58" lengthAdjust="spacingAndGlyphs">70</text>
<line x1="525" y1="768.5" x2="525" y2="775.1" stroke="#000" stroke-width="2.0"/>
<text x="515.59" y="794.8" style="font-size:17.6px" textLength="19.58" lengthAdjust="spacingAndGlyphs">80</text>
<line x1="593.2" y1="768.5" x2="593.2" y2="775.1" stroke="#000" stroke-width="2.0"/>
<text x="583.77" y="794.8" style="font-size:17.6px" textLength="19.58" lengthAdjust="spacingAndGlyphs">90</text>
<line x1="661.4" y1="768.5" x2="661.4" y2="775.1" stroke="#000" stroke-width="2.0"/>
<text x="648.16" y="794.8" style="font-size:17.6px" textLength="28.18" lengthAdjust="spacingAndGlyphs"><tspan style="font-family:NanumGothic,sans-serif;font-size:0.922em">1</tspan>00</text>
<text><tspan x="468.64" y="831.9" style="font-size:23.3px" textLength="37.89" lengthAdjust="spacingAndGlyphs">HR</tspan><tspan x="506.2" y="836.6" style="font-size:12.8px" textLength="31.29" lengthAdjust="spacingAndGlyphs">peak</tspan><tspan x="537.97" y="833.2" style="font-size:23.6px" textLength="43.82" lengthAdjust="spacingAndGlyphs"> (%)</tspan></text>
<line x1="370" y1="629.3" x2="370" y2="624.3" stroke="#000" stroke-width="1.5"/>
<line x1="368.2" y1="625" x2="371.8" y2="625" stroke="#000" stroke-width="1.4"/>
<rect x="364.1" y="629.9" width="11.8" height="116.2" fill="#fff" stroke="#808080" stroke-width="1.2"/>
<line x1="388.95" y1="600.6" x2="388.95" y2="591.2" stroke="#000" stroke-width="1.5"/>
<line x1="387.15" y1="591.9" x2="390.75" y2="591.9" stroke="#000" stroke-width="1.4"/>
<rect x="382.8" y="600.6" width="12.3" height="146.1" fill="#000"/>
<line x1="407.5" y1="616.3" x2="407.5" y2="608.4" stroke="#000" stroke-width="1.5"/>
<line x1="405.7" y1="609.1" x2="409.3" y2="609.1" stroke="#000" stroke-width="1.4"/>
<rect x="401.6" y="616.9" width="11.8" height="129.2" fill="url(#hatch)" stroke="#808080" stroke-width="1.2"/>
<line x1="438.2" y1="623.8" x2="438.2" y2="617.8" stroke="#000" stroke-width="1.5"/>
<line x1="436.4" y1="618.5" x2="440" y2="618.5" stroke="#000" stroke-width="1.4"/>
<rect x="432.3" y="624.4" width="11.8" height="121.7" fill="#fff" stroke="#808080" stroke-width="1.2"/>
<line x1="457.15" y1="603.1" x2="457.15" y2="596.5" stroke="#000" stroke-width="1.5"/>
<line x1="455.35" y1="597.2" x2="458.95" y2="597.2" stroke="#000" stroke-width="1.4"/>
<rect x="451" y="603.1" width="12.3" height="143.6" fill="#000"/>
<line x1="475.7" y1="626.6" x2="475.7" y2="621.4" stroke="#000" stroke-width="1.5"/>
<line x1="473.9" y1="622.1" x2="477.5" y2="622.1" stroke="#000" stroke-width="1.4"/>
<rect x="469.8" y="627.2" width="11.8" height="118.9" fill="url(#hatch)" stroke="#808080" stroke-width="1.2"/>
<line x1="506.4" y1="613.6" x2="506.4" y2="607.4" stroke="#000" stroke-width="1.5"/>
<line x1="504.6" y1="608.1" x2="508.2" y2="608.1" stroke="#000" stroke-width="1.4"/>
<rect x="500.5" y="614.2" width="11.8" height="131.9" fill="#fff" stroke="#808080" stroke-width="1.2"/>
<line x1="525.35" y1="597.6" x2="525.35" y2="587.7" stroke="#000" stroke-width="1.5"/>
<line x1="523.55" y1="588.4" x2="527.15" y2="588.4" stroke="#000" stroke-width="1.4"/>
<rect x="519.2" y="597.6" width="12.3" height="149.1" fill="#000"/>
<line x1="543.9" y1="627.5" x2="543.9" y2="621.2" stroke="#000" stroke-width="1.5"/>
<line x1="542.1" y1="621.9" x2="545.7" y2="621.9" stroke="#000" stroke-width="1.4"/>
<rect x="538" y="628.1" width="11.8" height="118" fill="url(#hatch)" stroke="#808080" stroke-width="1.2"/>
<line x1="574.6" y1="609.6" x2="574.6" y2="601.8" stroke="#000" stroke-width="1.5"/>
<line x1="572.8" y1="602.5" x2="576.4" y2="602.5" stroke="#000" stroke-width="1.4"/>
<rect x="568.7" y="610.2" width="11.8" height="135.9" fill="#fff" stroke="#808080" stroke-width="1.2"/>
<line x1="593.55" y1="585.5" x2="593.55" y2="575.8" stroke="#000" stroke-width="1.5"/>
<line x1="591.75" y1="576.5" x2="595.35" y2="576.5" stroke="#000" stroke-width="1.4"/>
<rect x="587.4" y="585.5" width="12.3" height="161.2" fill="#000"/>
<line x1="612.1" y1="633.8" x2="612.1" y2="629.3" stroke="#000" stroke-width="1.5"/>
<line x1="610.3" y1="630" x2="613.9" y2="630" stroke="#000" stroke-width="1.4"/>
<rect x="606.2" y="634.4" width="11.8" height="111.7" fill="url(#hatch)" stroke="#808080" stroke-width="1.2"/>
<line x1="642.8" y1="620.8" x2="642.8" y2="612.4" stroke="#000" stroke-width="1.5"/>
<line x1="641" y1="613.1" x2="644.6" y2="613.1" stroke="#000" stroke-width="1.4"/>
<rect x="636.9" y="621.4" width="11.8" height="124.7" fill="#fff" stroke="#808080" stroke-width="1.2"/>
<line x1="661.75" y1="597.6" x2="661.75" y2="588.3" stroke="#000" stroke-width="1.5"/>
<line x1="659.95" y1="589" x2="663.55" y2="589" stroke="#000" stroke-width="1.4"/>
<rect x="655.6" y="597.6" width="12.3" height="149.1" fill="#000"/>
<line x1="680.3" y1="606.5" x2="680.3" y2="598.9" stroke="#000" stroke-width="1.5"/>
<line x1="678.5" y1="599.6" x2="682.1" y2="599.6" stroke="#000" stroke-width="1.4"/>
<rect x="674.4" y="607.1" width="11.8" height="139" fill="url(#hatch)" stroke="#808080" stroke-width="1.2"/>
<text x="382.64" y="590.36" style="font-family:'Noto Serif CJK SC',serif;font-weight:900;stroke-width:0.7px;font-size:24.0px">*</text>
<text x="450.74" y="590.36" style="font-family:'Noto Serif CJK SC',serif;font-weight:900;stroke-width:0.7px;font-size:24.0px">*</text>
<text x="586.84" y="571.36" style="font-family:'Noto Serif CJK SC',serif;font-weight:900;stroke-width:0.7px;font-size:24.0px">*</text>
<text x="655.04" y="583.86" style="font-family:'Noto Serif CJK SC',serif;font-weight:900;stroke-width:0.7px;font-size:24.0px">*</text>
<text x="340.32" y="472.6" style="font-size:17.15px" textLength="69.59" lengthAdjust="spacingAndGlyphs">ANOVA</text>
<line x1="340.8" y1="474.5" x2="409.4" y2="474.5" stroke="#111" stroke-width="1.1"/>
<rect x="346.2" y="485.3" width="12.4" height="6.6" fill="#fff" stroke="#333" stroke-width="1.3"/>
<rect x="385.6" y="485" width="11.8" height="7.0" fill="#000" stroke="#111" stroke-width="1"/>
<text><tspan x="364.15" y="492.1" style="font-size:13px" textLength="21.78" lengthAdjust="spacingAndGlyphs">vs. </tspan><tspan x="401.52" y="492.1" style="font-size:17.3px;stroke-width:0.8px">: </tspan><tspan x="411.12" y="492.1" style="font-style:italic;stroke-width:0.8px;font-size:17.3px" textLength="14.95" lengthAdjust="spacingAndGlyphs">P </tspan><tspan x="426.18" y="491.9" style="font-size:17.3px" textLength="14.95" lengthAdjust="spacingAndGlyphs">= </tspan><tspan x="440.22" y="492.1" style="font-size:17.3px" textLength="42.75" lengthAdjust="spacingAndGlyphs">0.022</tspan></text>
<rect x="346.2" y="505.1" width="12.4" height="6.6" fill="#fff" stroke="#333" stroke-width="1.3"/>
<rect x="385.6" y="504.8" width="11.8" height="7.0" fill="url(#dots)" stroke="#111" stroke-width="1"/>
<text><tspan x="364.15" y="511.9" style="font-size:13px" textLength="21.78" lengthAdjust="spacingAndGlyphs">vs. </tspan><tspan x="401.52" y="511.9" style="font-size:17.3px;stroke-width:0.8px">: </tspan><tspan x="411.12" y="511.9" style="font-style:italic;stroke-width:0.8px;font-size:17.3px" textLength="14.95" lengthAdjust="spacingAndGlyphs">P </tspan><tspan x="426.18" y="511.7" style="font-size:17.3px" textLength="14.95" lengthAdjust="spacingAndGlyphs">= </tspan><tspan x="440.22" y="511.9" style="font-size:17.3px" textLength="42.75" lengthAdjust="spacingAndGlyphs">0.709</tspan></text>
<text transform="rotate(-90)"><tspan x="-696.92" y="282.5" style="stroke-width:0.75px;font-size:24.7px" textLength="40.1" lengthAdjust="spacingAndGlyphs">SV </tspan><tspan x="-655.96" y="282.2" style="stroke-width:0.75px;font-size:24.7px" textLength="9.09" lengthAdjust="spacingAndGlyphs">(</tspan><tspan x="-645.09" y="282.2" style="stroke-width:0.6px;font-size:21px" textLength="22.78" lengthAdjust="spacingAndGlyphs">m</tspan><tspan x="-621.03" y="282.2" style="stroke-width:0.6px;font-size:21px" textLength="7.29" lengthAdjust="spacingAndGlyphs">l</tspan><tspan x="-608.72" y="280.2" style="stroke-width:0.6px;font-size:21px" textLength="6.87" lengthAdjust="spacingAndGlyphs">·</tspan><tspan x="-598.49" y="282.2" style="stroke-width:0.6px;font-size:21px" textLength="24.18" lengthAdjust="spacingAndGlyphs">m</tspan><tspan x="-574.26" y="282.06" style="stroke-width:0.2px;font-size:34.69px" textLength="10.21" lengthAdjust="spacingAndGlyphs">²</tspan><tspan x="-562.32" y="282.2" style="stroke-width:0.75px;font-size:24.7px" textLength="8.38" lengthAdjust="spacingAndGlyphs">)</tspan></text>
<line x1="920.6" y1="528.7" x2="920.6" y2="745.2" stroke="#000" stroke-width="2.0"/>
<line x1="914.6" y1="744.2" x2="920.6" y2="744.2" stroke="#000" stroke-width="2.0"/>
<text x="887.46" y="752.64" style="font-size:17.6px" textLength="24.47" lengthAdjust="spacingAndGlyphs">0.0</text>
<line x1="917.4" y1="717.39" x2="920.6" y2="717.39" stroke="#000" stroke-width="2.0"/>
<line x1="914.6" y1="690.58" x2="920.6" y2="690.58" stroke="#000" stroke-width="2.0"/>
<text x="887.22" y="699.02" style="font-size:17.6px" textLength="24.47" lengthAdjust="spacingAndGlyphs">2.5</text>
<line x1="917.4" y1="663.76" x2="920.6" y2="663.76" stroke="#000" stroke-width="2.0"/>
<line x1="914.6" y1="636.95" x2="920.6" y2="636.95" stroke="#000" stroke-width="2.0"/>
<text x="887.46" y="645.39" style="font-size:17.6px" textLength="24.47" lengthAdjust="spacingAndGlyphs">5.0</text>
<line x1="917.4" y1="610.14" x2="920.6" y2="610.14" stroke="#000" stroke-width="2.0"/>
<line x1="914.6" y1="583.33" x2="920.6" y2="583.33" stroke="#000" stroke-width="2.0"/>
<text x="887.22" y="591.77" style="font-size:17.6px" textLength="24.47" lengthAdjust="spacingAndGlyphs">7.5</text>
<line x1="917.4" y1="556.51" x2="920.6" y2="556.51" stroke="#000" stroke-width="2.0"/>
<line x1="914.6" y1="529.7" x2="920.6" y2="529.7" stroke="#000" stroke-width="2.0"/>
<text x="877.62" y="538.14" style="font-size:17.6px" textLength="34.3" lengthAdjust="spacingAndGlyphs"><tspan style="font-family:NanumGothic,sans-serif;font-size:0.922em">1</tspan>0.0</text>
<line x1="941" y1="765.2" x2="1274.5" y2="765.2" stroke="#000" stroke-width="2.3"/>
<line x1="971.8" y1="765.2" x2="971.8" y2="771.8" stroke="#000" stroke-width="2.0"/>
<text x="962.35" y="791.7" style="font-size:17.6px" textLength="19.58" lengthAdjust="spacingAndGlyphs">60</text>
<line x1="1039.4" y1="765.2" x2="1039.4" y2="771.8" stroke="#000" stroke-width="2.0"/>
<text x="1029.89" y="791.7" style="font-size:17.6px" textLength="19.58" lengthAdjust="spacingAndGlyphs">70</text>
<line x1="1107" y1="765.2" x2="1107" y2="771.8" stroke="#000" stroke-width="2.0"/>
<text x="1097.59" y="791.7" style="font-size:17.6px" textLength="19.58" lengthAdjust="spacingAndGlyphs">80</text>
<line x1="1174.6" y1="765.2" x2="1174.6" y2="771.8" stroke="#000" stroke-width="2.0"/>
<text x="1165.17" y="791.7" style="font-size:17.6px" textLength="19.58" lengthAdjust="spacingAndGlyphs">90</text>
<line x1="1242.2" y1="765.2" x2="1242.2" y2="771.8" stroke="#000" stroke-width="2.0"/>
<text x="1228.96" y="791.7" style="font-size:17.6px" textLength="28.18" lengthAdjust="spacingAndGlyphs"><tspan style="font-family:NanumGothic,sans-serif;font-size:0.922em">1</tspan>00</text>
<text><tspan x="1051.54" y="828.8" style="font-size:23.3px" textLength="37.89" lengthAdjust="spacingAndGlyphs">HR</tspan><tspan x="1089.1" y="833.5" style="font-size:12.8px" textLength="31.29" lengthAdjust="spacingAndGlyphs">peak</tspan><tspan x="1120.87" y="830.1" style="font-size:23.6px" textLength="43.82" lengthAdjust="spacingAndGlyphs"> (%)</tspan></text>
<line x1="953.9" y1="666.3" x2="953.9" y2="663.1" stroke="#000" stroke-width="1.5"/>
<line x1="952.1" y1="663.8" x2="955.7" y2="663.8" stroke="#000" stroke-width="1.4"/>
<rect x="948" y="666.9" width="11.8" height="76.7" fill="#fff" stroke="#808080" stroke-width="1.2"/>
<line x1="972.35" y1="643.8" x2="972.35" y2="637.3" stroke="#000" stroke-width="1.5"/>
<line x1="970.55" y1="638" x2="974.15" y2="638" stroke="#000" stroke-width="1.4"/>
<rect x="966.2" y="643.8" width="12.3" height="100.4" fill="#000"/>
<line x1="991.1" y1="652.7" x2="991.1" y2="648.2" stroke="#000" stroke-width="1.5"/>
<line x1="989.3" y1="648.9" x2="992.9" y2="648.9" stroke="#000" stroke-width="1.4"/>
<rect x="985.2" y="653.3" width="11.8" height="90.3" fill="url(#hatch)" stroke="#808080" stroke-width="1.2"/>
<line x1="1021.5" y1="649.2" x2="1021.5" y2="645.1" stroke="#000" stroke-width="1.5"/>
<line x1="1019.7" y1="645.8" x2="1023.3" y2="645.8" stroke="#000" stroke-width="1.4"/>
<rect x="1015.6" y="649.8" width="11.8" height="93.8" fill="#fff" stroke="#808080" stroke-width="1.2"/>
<line x1="1039.95" y1="627.6" x2="1039.95" y2="621.7" stroke="#000" stroke-width="1.5"/>
<line x1="1038.15" y1="622.4" x2="1041.75" y2="622.4" stroke="#000" stroke-width="1.4"/>
<rect x="1033.8" y="627.6" width="12.3" height="116.6" fill="#000"/>
<line x1="1058.7" y1="645.8" x2="1058.7" y2="641.8" stroke="#000" stroke-width="1.5"/>
<line x1="1056.9" y1="642.5" x2="1060.5" y2="642.5" stroke="#000" stroke-width="1.4"/>
<rect x="1052.8" y="646.4" width="11.8" height="97.2" fill="url(#hatch)" stroke="#808080" stroke-width="1.2"/>
<line x1="1089.1" y1="628.8" x2="1089.1" y2="622.7" stroke="#000" stroke-width="1.5"/>
<line x1="1087.3" y1="623.4" x2="1090.9" y2="623.4" stroke="#000" stroke-width="1.4"/>
<rect x="1083.2" y="629.4" width="11.8" height="114.2" fill="#fff" stroke="#808080" stroke-width="1.2"/>
<line x1="1107.55" y1="606.6" x2="1107.55" y2="597.4" stroke="#000" stroke-width="1.5"/>
<line x1="1105.75" y1="598.1" x2="1109.35" y2="598.1" stroke="#000" stroke-width="1.4"/>
<rect x="1101.4" y="606.6" width="12.3" height="137.6" fill="#000"/>
<line x1="1126.3" y1="633.6" x2="1126.3" y2="626.9" stroke="#000" stroke-width="1.5"/>
<line x1="1124.5" y1="627.6" x2="1128.1" y2="627.6" stroke="#000" stroke-width="1.4"/>
<rect x="1120.4" y="634.2" width="11.8" height="109.4" fill="url(#hatch)" stroke="#808080" stroke-width="1.2"/>
<line x1="1156.7" y1="605.6" x2="1156.7" y2="599" stroke="#000" stroke-width="1.5"/>
<line x1="1154.9" y1="599.7" x2="1158.5" y2="599.7" stroke="#000" stroke-width="1.4"/>
<path d="M1150.8 605.6V743.6H1162.6V605.6" fill="#fff" stroke="#808080" stroke-width="1.2"/>
<line x1="1175.15" y1="575.9" x2="1175.15" y2="566.1" stroke="#000" stroke-width="1.5"/>
<line x1="1173.35" y1="566.8" x2="1176.95" y2="566.8" stroke="#000" stroke-width="1.4"/>
<rect x="1169" y="575.9" width="12.3" height="168.3" fill="#000"/>
<line x1="1193.9" y1="627.4" x2="1193.9" y2="622.5" stroke="#000" stroke-width="1.5"/>
<line x1="1192.1" y1="623.2" x2="1195.7" y2="623.2" stroke="#000" stroke-width="1.4"/>
<rect x="1188" y="628" width="11.8" height="115.6" fill="url(#hatch)" stroke="#808080" stroke-width="1.2"/>
<line x1="1224.3" y1="611.1" x2="1224.3" y2="603.4" stroke="#000" stroke-width="1.5"/>
<line x1="1222.5" y1="604.1" x2="1226.1" y2="604.1" stroke="#000" stroke-width="1.4"/>
<rect x="1218.4" y="611.7" width="11.8" height="131.9" fill="#fff" stroke="#808080" stroke-width="1.2"/>
<line x1="1242.75" y1="573.8" x2="1242.75" y2="562.6" stroke="#000" stroke-width="1.5"/>
<line x1="1240.95" y1="563.3" x2="1244.55" y2="563.3" stroke="#000" stroke-width="1.4"/>
<rect x="1236.6" y="573.8" width="12.3" height="170.4" fill="#000"/>
<line x1="1261.5" y1="583.9" x2="1261.5" y2="575" stroke="#000" stroke-width="1.5"/>
<line x1="1259.7" y1="575.7" x2="1263.3" y2="575.7" stroke="#000" stroke-width="1.4"/>
<rect x="1255.6" y="584.5" width="11.8" height="159.1" fill="url(#hatch)" stroke="#808080" stroke-width="1.2"/>
<text x="966.14" y="633.26" style="font-family:'Noto Serif CJK SC',serif;font-weight:900;stroke-width:0.7px;font-size:24.0px">*</text>
<text x="1033.64" y="616.66" style="font-family:'Noto Serif CJK SC',serif;font-weight:900;stroke-width:0.7px;font-size:24.0px">*</text>
<text x="1100.94" y="592.56" style="font-family:'Noto Serif CJK SC',serif;font-weight:900;stroke-width:0.7px;font-size:24.0px">*</text>
<text x="1168.24" y="560.76" style="font-family:'Noto Serif CJK SC',serif;font-weight:900;stroke-width:0.7px;font-size:24.0px">*</text>
<text x="1235.94" y="554.56" style="font-family:'Noto Serif CJK SC',serif;font-weight:900;stroke-width:0.7px;font-size:24.0px">*</text>
<text x="980.25" y="641.48" style="font-family:IPAGothic,sans-serif;font-weight:bold;stroke:none;font-size:21.52px">&#8224;</text>
<text x="1250.54" y="568.07" style="font-family:IPAGothic,sans-serif;font-weight:bold;stroke:none;font-size:20.33px">&#8224;</text>
<text x="924.02" y="472.6" style="font-size:17.15px" textLength="69.59" lengthAdjust="spacingAndGlyphs">ANOVA</text>
<line x1="924.5" y1="474.5" x2="993.1" y2="474.5" stroke="#111" stroke-width="1.1"/>
<rect x="929.9" y="485.3" width="12.4" height="6.6" fill="#fff" stroke="#333" stroke-width="1.3"/>
<rect x="969.3" y="485" width="11.8" height="7.0" fill="#000" stroke="#111" stroke-width="1"/>
<text><tspan x="947.85" y="492.1" style="font-size:13px" textLength="21.78" lengthAdjust="spacingAndGlyphs">vs. </tspan><tspan x="985.22" y="492.1" style="font-size:17.3px;stroke-width:0.8px">: </tspan><tspan x="994.82" y="492.1" style="font-style:italic;stroke-width:0.8px;font-size:17.3px" textLength="14.95" lengthAdjust="spacingAndGlyphs">P </tspan><tspan x="1009.88" y="491.9" style="font-size:17.3px" textLength="14.95" lengthAdjust="spacingAndGlyphs">= </tspan><tspan x="1023.92" y="492.1" style="font-size:17.3px" textLength="42.75" lengthAdjust="spacingAndGlyphs">0.004</tspan></text>
<rect x="929.9" y="505.1" width="12.4" height="6.6" fill="#fff" stroke="#333" stroke-width="1.3"/>
<rect x="969.3" y="504.8" width="11.8" height="7.0" fill="url(#dots)" stroke="#111" stroke-width="1"/>
<text><tspan x="947.85" y="511.9" style="font-size:13px" textLength="21.78" lengthAdjust="spacingAndGlyphs">vs. </tspan><tspan x="985.22" y="511.9" style="font-size:17.3px;stroke-width:0.8px">: </tspan><tspan x="994.82" y="511.9" style="font-style:italic;stroke-width:0.8px;font-size:17.3px" textLength="14.95" lengthAdjust="spacingAndGlyphs">P </tspan><tspan x="1009.88" y="511.7" style="font-size:17.3px" textLength="14.95" lengthAdjust="spacingAndGlyphs">= </tspan><tspan x="1023.92" y="511.9" style="font-size:17.3px" textLength="42.75" lengthAdjust="spacingAndGlyphs">0.539</tspan></text>
<text transform="rotate(-90)"><tspan x="-719.68" y="852" style="stroke-width:0.75px;font-size:24.7px" textLength="30.39" lengthAdjust="spacingAndGlyphs">Q </tspan><tspan x="-690.14" y="852" style="stroke-width:0.75px;font-size:24.7px" textLength="10.97" lengthAdjust="spacingAndGlyphs">(</tspan><tspan x="-678.48" y="852" style="stroke-width:0.6px;font-size:21px" textLength="6.28" lengthAdjust="spacingAndGlyphs">l</tspan><tspan x="-667.37" y="851" style="stroke-width:0.6px;font-size:21px" textLength="6.63" lengthAdjust="spacingAndGlyphs">·</tspan><tspan x="-657.06" y="852" style="stroke-width:0.6px;font-size:21px" textLength="44.83" lengthAdjust="spacingAndGlyphs">min</tspan><tspan x="-610.26" y="841" style="stroke-width:0.3px;font-size:15px" textLength="3.73" lengthAdjust="spacingAndGlyphs">−</tspan><tspan x="-603.76" y="852.06" style="stroke-width:0.2px;font-size:34.99px" textLength="6.36" lengthAdjust="spacingAndGlyphs">¹</tspan><tspan x="-589.17" y="851" style="stroke-width:0.6px;font-size:21px" textLength="6.63" lengthAdjust="spacingAndGlyphs">·</tspan><tspan x="-579.1" y="852" style="stroke-width:0.6px;font-size:21px" textLength="24.3" lengthAdjust="spacingAndGlyphs">m</tspan><tspan x="-554.46" y="841.5" style="stroke-width:0.3px;font-size:15px" textLength="3.73" lengthAdjust="spacingAndGlyphs">−</tspan><tspan x="-548.85" y="853.83" style="stroke-width:0.2px;font-size:36.37px" textLength="11.37" lengthAdjust="spacingAndGlyphs">²</tspan><tspan x="-537.02" y="852" style="stroke-width:0.75px;font-size:24.7px" textLength="8.5" lengthAdjust="spacingAndGlyphs">)</tspan></text>
<rect x="1483.8" y="9.0" width="22.4" height="9.6" fill="#fff" stroke="#555" stroke-width="1.2"/>
<text x="1519.38" y="19.1" style="font-size:15.5px" textLength="60.96" lengthAdjust="spacingAndGlyphs">Women</text>
<rect x="1483.2" y="32.8" width="23.2" height="9.4" fill="#000"/>
<text x="1518.32" y="43" style="font-size:15.5px" textLength="250.98" lengthAdjust="spacingAndGlyphs">Men prior to blood normalization</text>
<rect x="1483.8" y="57.2" width="22.4" height="9.0" fill="url(#hatchL)" stroke="#777" stroke-width="1.1"/>
<text x="1518.32" y="67" style="font-size:15.5px" textLength="228.57" lengthAdjust="spacingAndGlyphs">Men after blood normalization</text>
</svg></body></html>
